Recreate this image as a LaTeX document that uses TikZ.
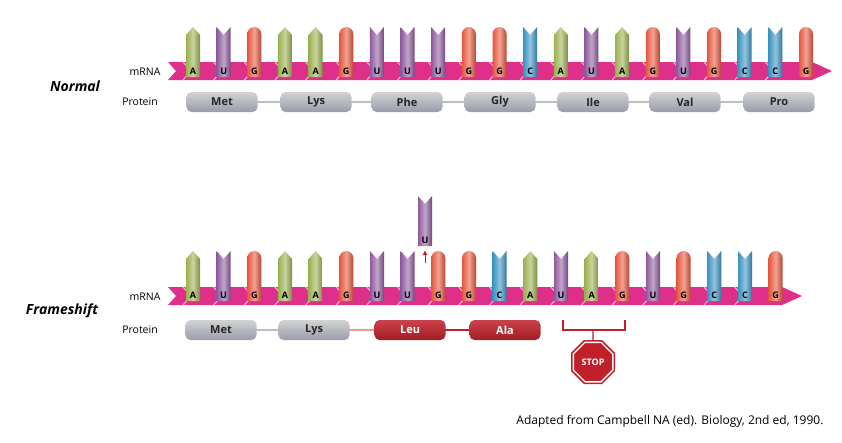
\documentclass[tikz,border=0pt]{standalone}
\usepackage{fontspec}
\setmainfont{Open Sans}
\usetikzlibrary{shapes.geometric,arrows.meta}
\definecolor{cA}{HTML}{9BB04F}
\definecolor{cU}{HTML}{8E5A9E}
\definecolor{cG}{HTML}{E5573C}
\definecolor{cC}{HTML}{3A93C3}
\definecolor{band}{HTML}{DE2F8A}
\definecolor{chev}{HTML}{F7A8CF}
\definecolor{pgray}{HTML}{A9AEBE}
\definecolor{pred}{HTML}{C0202A}
\newcommand\nshape[3]{% type, x, top
 \ifx#1A (#2-7,#3+8) -- (#2,#3) -- (#2+7,#3+8)\fi
 \ifx#1G (#2-7,#3+7) arc[start angle=180,end angle=360,radius=7]\fi
 \ifx#1U (#2-7,#3) -- (#2,#3+8) -- (#2+7,#3)\fi
 \ifx#1C (#2-7,#3) -- (#2,#3+8) -- (#2+7,#3)\fi
 -- (#2+7,#3+50) -- (#2-7,#3+50) -- cycle}
\newcommand\nuc[3]{% type x top
 \shade[left color=c#1, right color=c#1!80!black, middle color=c#1!55!white] \nshape{#1}{#2}{#3};
 \node[font=\bfseries\fontsize{9}{9}\selectfont] at (#2,#3+44) {#1};}
\newcommand\backbone[3]{% y center, x end, n segments
 \fill[band] (168,#1-9) -- (#2-20,#1-9) -- (#2,#1) -- (#2-20,#1+9) -- (168,#1+9) -- (176,#1) -- cycle;
 \foreach \i in {0,...,#3}{ \draw[chev,line width=1.2pt] (183+\i*30.65,#1-9) -- (191+\i*30.65,#1) -- (183+\i*30.65,#1+9);}
}
\tikzset{prot/.style={rounded corners=5pt,minimum width=71pt,minimum height=20pt,inner sep=0pt,
  top color=gray!35,bottom color=pgray!90!black,font=\bfseries\fontsize{11}{11}\selectfont, text=black!85},
  protr/.style={prot,top color=pred!85,bottom color=pred!85!black,text=white},
  link/.style={line width=2pt,draw=pgray!80},
  lab/.style={font=\fontsize{10.5}{10.5}\selectfont},
  title/.style={font=\bfseries\itshape\fontsize{14}{14}\selectfont}}
\begin{document}
\begin{tikzpicture}[x=1pt,y=-1pt]
\useasboundingbox (0,0) rectangle (842,442);
% Normal
\backbone{71}{832}{19}
\foreach \t [count=\k from 0] in {A,U,G,A,A,G,U,U,U,G,G,C,A,U,A,G,U,G,C,C,G}{
  \pgfmathsetmacro\xx{193+\k*30.65}
  \edef\tmp{\noexpand\nuc{\t}{\xx}{27}}\tmp}
\node[lab] (m1) at (145,72) {mRNA};
\node[lab] (p1) at (140,102) {Protein};
\node[title] (n1) at (75,86) {Normal};
\coordinate (q1) at (222,102);
\coordinate (q7) at (779,102);
\draw[link] (q1) -- (q7);
\foreach \n/\x [count=\k] in {Met/222,Lys/316,Phe/407,Gly/500,Ile/593,Val/685,Pro/779}{
  \node[prot] (a\k) at (\x,102) {\n};}
% Frameshift
\backbone{296}{802}{18}
\foreach \t/\xx in {A/193,U/223.6,G/254.3,A/285,A/315.6,G/346.3,U/377,U/407.6,G/438.3,G/469,C/499.6,A/530.3,U/561,A/591.6,G/622.3,U/653,G/683.6,C/714.3,C/745,G/775.6}{
  \edef\tmp{\noexpand\nuc{\t}{\xx}{251}}\tmp}
\nuc{U}{425}{196}
\coordinate (arB) at (425,263);
\coordinate (arT) at (425,250);
\draw[pred,line width=1pt,-{Latex[length=5pt,width=5pt]}] (arB) -- (arT);
\node[lab] (m2) at (145,297) {mRNA};
\node[lab] (p2) at (140,330) {Protein};
\node[title] (n2) at (62,311) {Frameshift};
\coordinate (r1) at (221,330);
\coordinate (r2) at (314,330);
\coordinate (r3) at (410,330);
\coordinate (r4) at (505,330);
\draw[link] (r1) -- (r2);
\draw[line width=2pt,draw=cG!60] (r2) -- (r3);
\draw[line width=2pt,draw=pred] (r3) -- (r4);
\node[prot] (b1) at (r1) {Met};
\node[prot] (b2) at (r2) {Lys};
\node[protr] (b3) at (r3) {Leu};
\node[protr] (b4) at (r4) {Ala};
% stop
\node[regular polygon,regular polygon sides=8,minimum size=46pt,fill=pred,draw=white,line width=1.5pt,double=pred,double distance=1.5pt,inner sep=0pt,text=white,font=\bfseries\fontsize{9}{9}\selectfont] (stop) at (593,362) {STOP};
\coordinate (bl) at (563,320);
\coordinate (br) at (625,320);
\coordinate (bm) at (593,330);
\draw[pred,line width=1.3pt] (bl) |- (bm) -| (br);
\draw[pred,line width=1.3pt] (bm) -- (stop.north);
\node[font=\fontsize{12}{12}\selectfont,anchor=east] (cap) at (827,421) {Adapted from Campbell NA (ed). Biology, 2nd ed, 1990.};
\end{tikzpicture}
\end{document}
